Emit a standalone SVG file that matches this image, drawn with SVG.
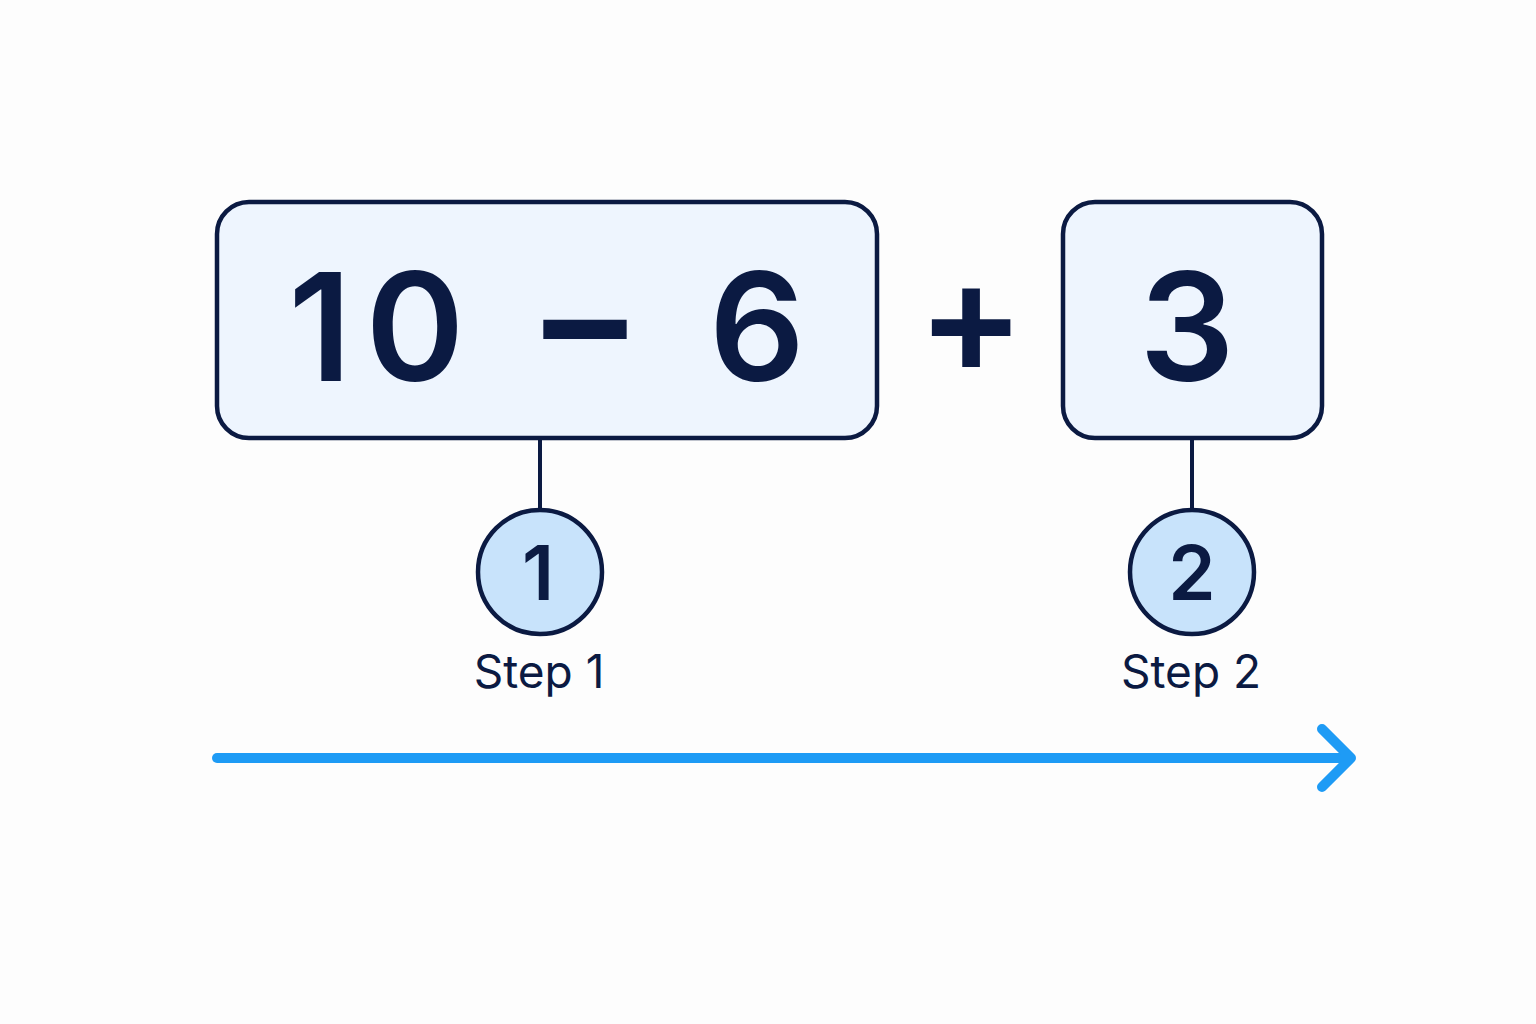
<svg xmlns="http://www.w3.org/2000/svg" width="1536" height="1024" viewBox="0 0 1536 1024">
<style>
.box{fill:#EEF5FE;stroke:#0B1A42;stroke-width:4.5}
.circ{fill:#C8E3FB;stroke:#0B1A42;stroke-width:4.5}
.big{font-family:Inter,"Liberation Sans",sans-serif;font-weight:560;font-size:150px;fill:#0B1A42;text-anchor:middle}
.num{font-family:Inter,"Liberation Sans",sans-serif;font-weight:600;font-size:76px;fill:#0B1A42;text-anchor:middle}
.lbl{font-family:Inter,"Liberation Sans",sans-serif;font-weight:400;font-size:46px;fill:#0B1A42;text-anchor:middle}
.conn{stroke:#0B1A42;stroke-width:4;fill:none}
.arrow{stroke:#1E9BF5;stroke-width:10;stroke-linecap:round;stroke-linejoin:round;fill:none}
</style>
<rect width="1536" height="1024" fill="#FDFDFD"/>
<g id="connectors">
<line class="conn" x1="540" y1="438" x2="540" y2="510"/>
<line class="conn" x1="1192" y1="438" x2="1192" y2="510"/>
</g>
<g id="box-expression">
<rect class="box" x="217" y="202" width="660" height="236" rx="32"/>
<text class="big" x="376" y="381"><tspan x="320">1</tspan><tspan x="415">0</tspan></text>
<text class="big" x="585" y="379" style="font-size:173px">−</text>
<text class="big" x="757" y="381">6</text>
</g>
<g id="plus">
<text class="big" x="971" y="374" style="font-size:160px">+</text>
</g>
<g id="box-three">
<rect class="box" x="1063" y="202" width="259" height="236" rx="32"/>
<text class="big" x="1187" y="381">3</text>
</g>
<g id="step1">
<circle class="circ" cx="540" cy="572" r="62"/>
<text class="num" x="538" y="600">1</text>
<text class="lbl" x="539" y="688">Step 1</text>
</g>
<g id="step2">
<circle class="circ" cx="1192" cy="572" r="62"/>
<text class="num" x="1192" y="600">2</text>
<text class="lbl" x="1191" y="688">Step 2</text>
</g>
<g id="timeline">
<line class="arrow" x1="217" y1="758" x2="1350" y2="758"/>
<polyline class="arrow" points="1322,729 1351,758 1322,787"/>
</g>
</svg>
